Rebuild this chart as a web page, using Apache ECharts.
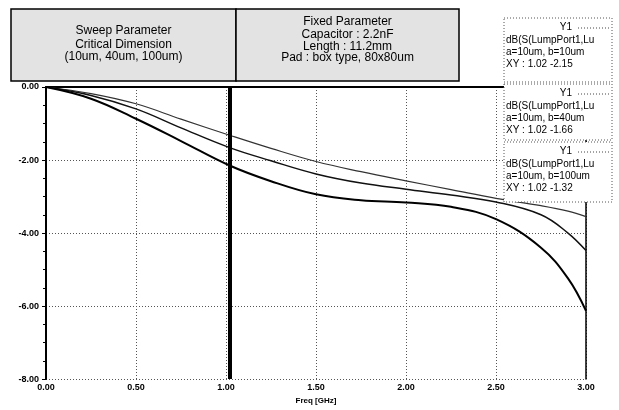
<!DOCTYPE html>
<html>
<head>
<meta charset="utf-8">
<script src="https://cdn.jsdelivr.net/npm/echarts@6/dist/echarts.min.js"></script>
<style>
  html, body { margin: 0; padding: 0; background: #fff; }
  #chartsDiv { width: 619px; height: 410px; }
</style>
</head>
<body>
<div id="chartsDiv"></div>
<script>
// frequency points (GHz)
const freq = [0, 0.25, 0.5, 0.75, 1.02, 1.25, 1.5, 1.75, 2.0, 2.25, 2.5, 2.75, 2.9, 3.0]
// dB(S(LumpPort1,...)) for b = 100um / 40um / 10um
const b100 = [0, -0.18, -0.46, -0.88, -1.32, -1.68, -2.04, -2.32, -2.57, -2.81, -3.05, -3.25, -3.4, -3.55]
const b40 = [0, -0.23, -0.6, -1.12, -1.66, -2.02, -2.38, -2.63, -2.8, -2.96, -3.15, -3.5, -4.0, -4.48]
const b10 = [0, -0.32, -0.87, -1.48, -2.15, -2.58, -2.94, -3.1, -3.16, -3.28, -3.62, -4.4, -5.24, -6.13]
const markerFreq = 1.02

const sweepText = ["Sweep Parameter", "Critical Dimension", "(10um, 40um, 100um)"]
const fixedText = ["Fixed Parameter", "Capacitor : 2.2nF", "Length : 11.2mm", "Pad : box type, 80x80um"]
const legendItems = [
  { name: "a=10um, b=10um", xy: "XY : 1.02 -2.15" },
  { name: "a=10um, b=40um", xy: "XY : 1.02 -1.66" },
  { name: "a=10um, b=100um", xy: "XY : 1.02 -1.32" },
]

const pairs = (ys) => freq.map((f, i) => [f, ys[i]])

const chart = echarts.init(document.getElementById("chartsDiv"))

// text boxes on top
const topBoxes = []
function textBox(x, y, w, h, lines, lineYs) {
  topBoxes.push({
    type: "rect", shape: { x: x, y: y, width: w, height: h }, z: 50,
    style: { fill: "#e3e3e3", stroke: "#000", lineWidth: 1.5 },
  })
  lines.forEach((t, i) => {
    topBoxes.push({
      type: "text", x: x + w / 2, y: lineYs[i], z: 51,
      style: { text: t, fill: "#000", font: "12px Arial", align: "center", verticalAlign: "middle" },
    })
  })
}
textBox(11, 9, 225, 72, sweepText, [31, 45, 57])
textBox(236, 9, 223, 72, fixedText, [22, 35, 47, 58])

// legend boxes on right
const boxTops = [18, 84, 142]
const boxHeights = [64, 56, 60]
legendItems.forEach((it, i) => {
  const t = boxTops[i]
  topBoxes.push({
    type: "rect", shape: { x: 504, y: t, width: 108, height: boxHeights[i] }, z: 50,
    style: { fill: "#fff", stroke: "#555", lineWidth: 1, lineDash: [1, 2] },
  })
  topBoxes.push({
    type: "text", x: 572, y: t + 9, z: 51,
    style: { text: "Y1", fill: "#000", font: "10px Arial", align: "right", verticalAlign: "middle" },
  })
  topBoxes.push({
    type: "line", shape: { x1: 578, y1: t + 10, x2: 609, y2: t + 10 }, z: 51,
    style: { stroke: "#444", lineWidth: 1, lineDash: [1, 2] },
  })
  const rows = ["dB(S(LumpPort1,Lu", it.name, it.xy]
  rows.forEach((r, k) => {
    topBoxes.push({
      type: "text", x: 506, y: t + 22 + k * 12, z: 51,
      style: { text: r, fill: "#000", font: "10px Arial", align: "left", verticalAlign: "middle" },
    })
  })
})

const option = {
  animation: false,
  grid: { left: 46, right: 33, top: 87, bottom: 28 },
  xAxis: {
    type: "value",
    min: 0,
    max: 3,
    interval: 0.5,
    name: "Freq [GHz]",
    nameLocation: "middle",
    nameGap: 15,
    nameTextStyle: { color: "#000", fontSize: 8, fontWeight: "bold", fontFamily: "Arial" },
    axisLine: { lineStyle: { color: "#000", width: 2 } },
    axisTick: { show: false },
    axisLabel: {
      color: "#000", fontSize: 9, fontWeight: "bold", fontFamily: "Arial", margin: 4,
      formatter: (v) => v.toFixed(2),
    },
    splitLine: { lineStyle: { color: "#555", type: [1, 2], width: 1 } },
  },
  yAxis: [
    {
      type: "value",
      min: -8,
      max: 0,
      interval: 2,
      axisLine: { show: true, lineStyle: { color: "#000", width: 2 } },
      axisTick: { show: true, length: 4, lineStyle: { color: "#000" } },
      minorTick: { show: true, splitNumber: 4, length: 3, lineStyle: { color: "#000" } },
      axisLabel: {
        color: "#000", fontSize: 9, fontWeight: "bold", fontFamily: "Arial", margin: 7,
        formatter: (v) => v.toFixed(2),
      },
      splitLine: { lineStyle: { color: "#555", type: [1, 2], width: 1 } },
    },
    {
      type: "value",
      min: -8,
      max: 0,
      interval: 2,
      position: "right",
      axisLine: { show: true, lineStyle: { color: "#000", width: 1.5 } },
      axisTick: { show: false },
      axisLabel: { show: false },
      splitLine: { show: false },
    },
  ],
  series: [
    {
      name: "a=10um, b=100um",
      type: "line",
      data: pairs(b100),
      smooth: 0.4,
      symbol: "none",
      lineStyle: { color: "#333", width: 1.2 },
      markLine: {
        silent: true,
        symbol: "none",
        label: { show: false },
        lineStyle: { color: "#000", width: 4, type: "solid" },
        data: [{ xAxis: markerFreq }],
      },
    },
    {
      name: "a=10um, b=40um",
      type: "line",
      data: pairs(b40),
      smooth: 0.4,
      symbol: "none",
      lineStyle: { color: "#111", width: 1.5 },
    },
    {
      name: "a=10um, b=10um",
      type: "line",
      data: pairs(b10),
      smooth: 0.4,
      symbol: "none",
      lineStyle: { color: "#000", width: 2 },
    },
  ],
  graphic: topBoxes,
}

chart.setOption(option)
</script>
</body>
</html>
